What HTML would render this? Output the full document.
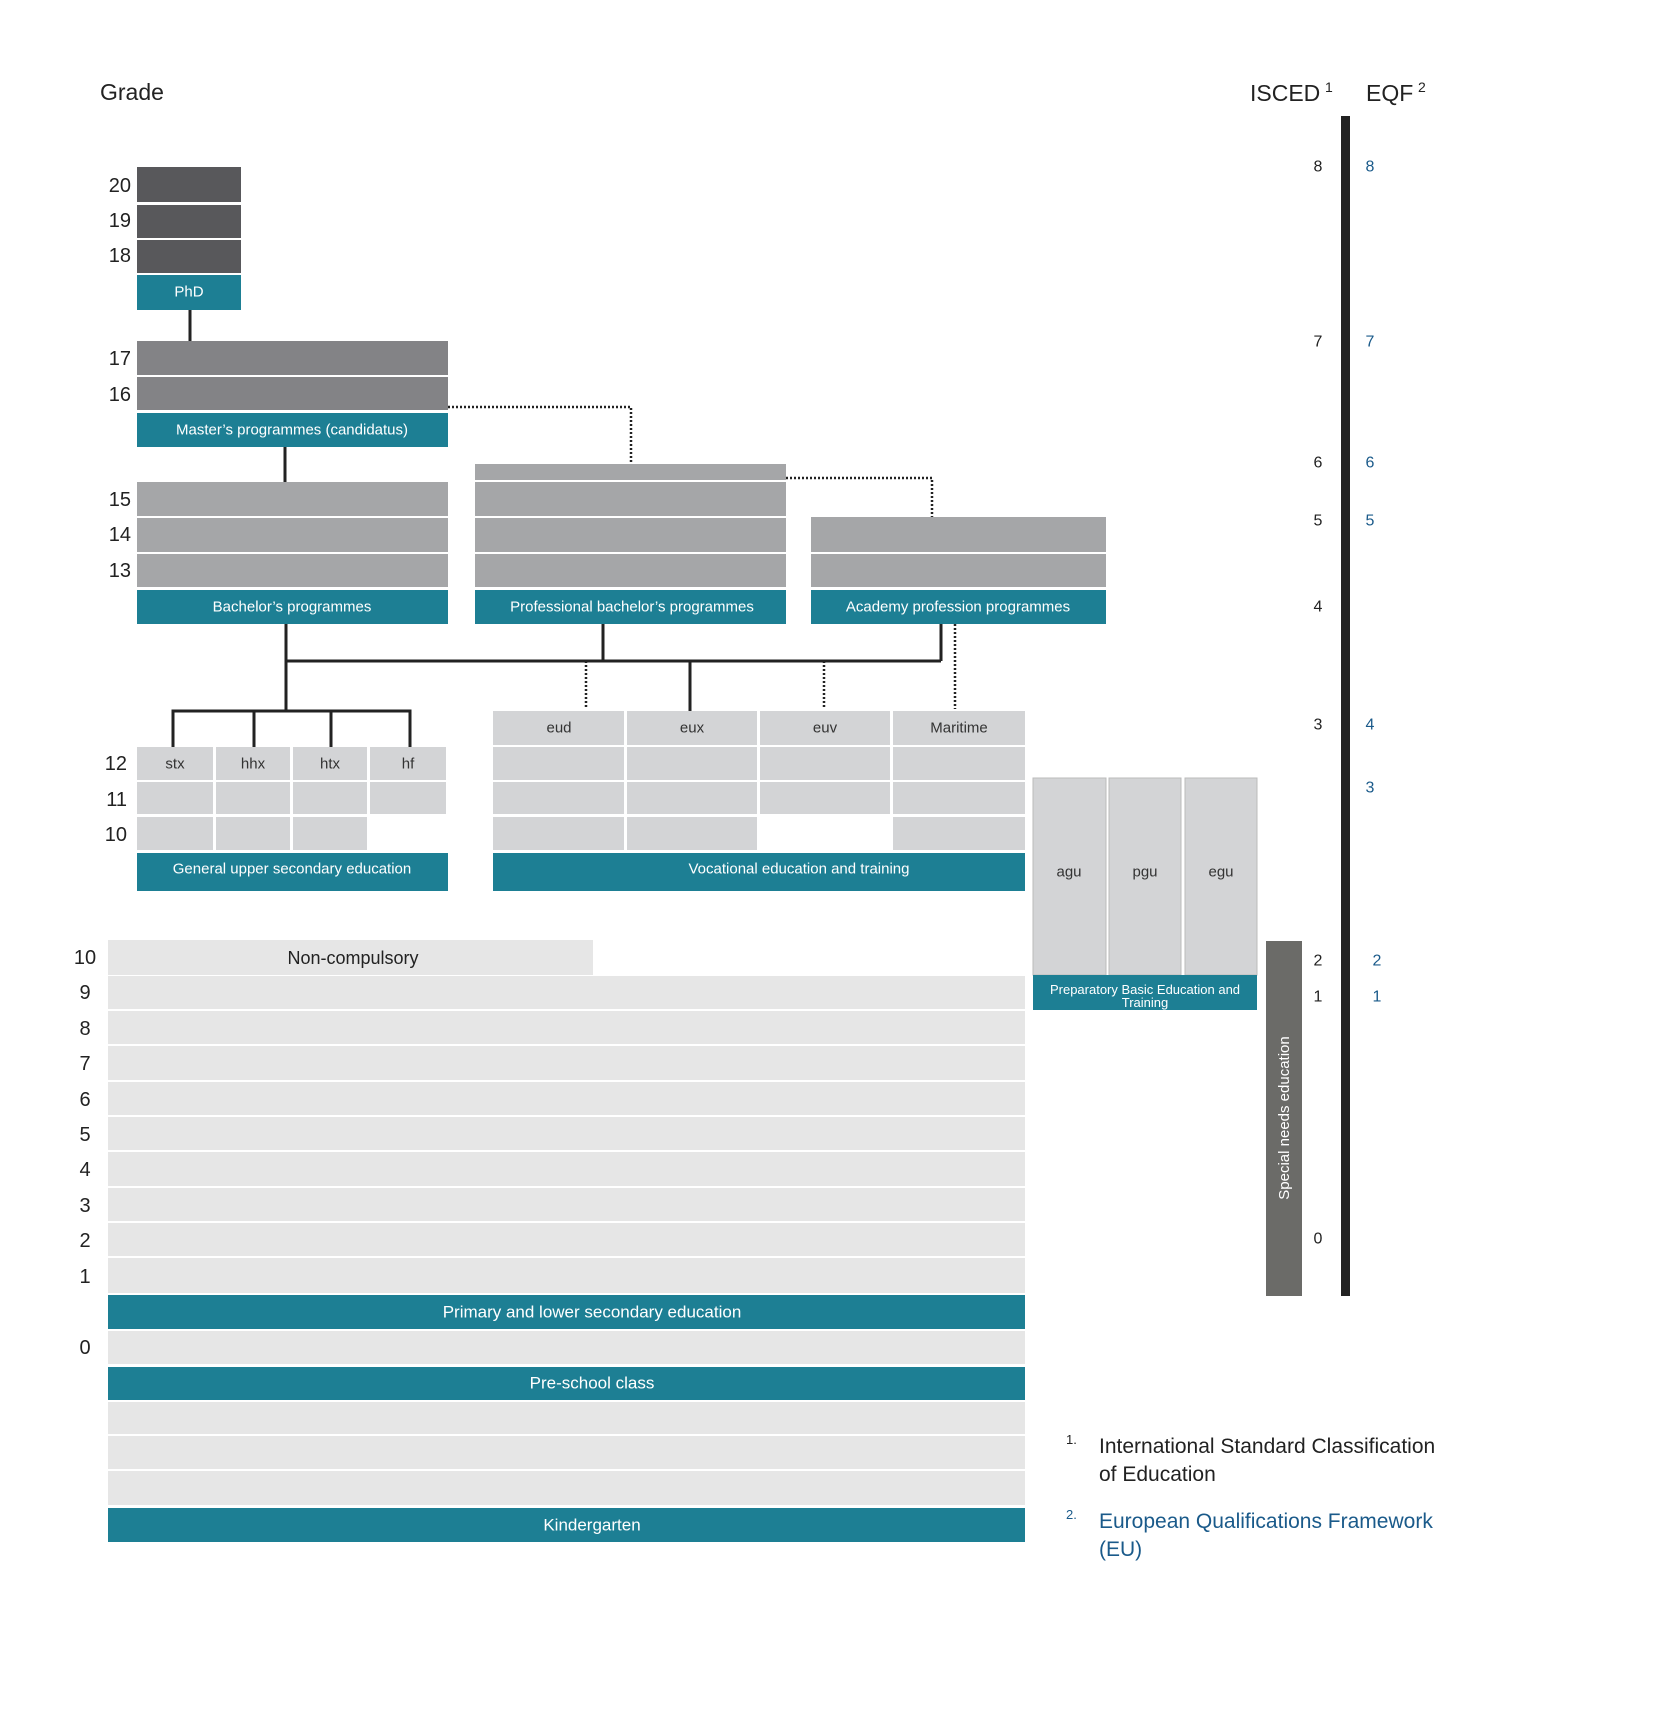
<!DOCTYPE html>
<html><head><meta charset="utf-8"><style>
html,body{margin:0;padding:0;background:#fff}
svg{display:block}
text{font-family:"Liberation Sans",sans-serif}
.g{font-size:20px;fill:#222}
.w{font-size:15px;fill:#fff;text-anchor:middle;dominant-baseline:central}
.s{font-size:15px;fill:#333;text-anchor:middle;dominant-baseline:central}
.n{font-size:16px;fill:#222;text-anchor:middle;dominant-baseline:central}
.b{font-size:16px;fill:#1a5a8a;text-anchor:middle;dominant-baseline:central}
</style></head><body>
<svg width="1654" height="1733" viewBox="0 0 1654 1733" xmlns="http://www.w3.org/2000/svg">
<text x="100" y="100" style="font-size:23px;fill:#222">Grade</text>
<text x="1250" y="101" style="font-size:23px;fill:#222">ISCED</text>
<text x="1325" y="92" style="font-size:14px;fill:#222">1</text>
<text x="1366" y="101" style="font-size:23px;fill:#222">EQF</text>
<text x="1418" y="92" style="font-size:14px;fill:#222">2</text>

<!-- PhD -->
<rect x="137" y="167" width="104" height="35" fill="#58585b"/>
<rect x="137" y="205" width="104" height="33" fill="#58585b"/>
<rect x="137" y="240" width="104" height="33" fill="#58585b"/>
<rect x="137" y="275" width="104" height="35" fill="#1d7f94"/>
<text class="w" x="189" y="292">PhD</text>
<line x1="190" y1="310" x2="190" y2="341" stroke="#222" stroke-width="3"/>
<!-- Master -->
<rect x="137" y="341" width="311" height="34" fill="#838386"/>
<rect x="137" y="377" width="311" height="33" fill="#838386"/>
<rect x="137" y="413" width="311" height="34" fill="#1d7f94"/>
<text class="w" x="292" y="430">Master’s programmes (candidatus)</text>
<line x1="285" y1="447" x2="285" y2="482" stroke="#222" stroke-width="3"/>
<polyline points="448,407 631,407 631,464" fill="none" stroke="#222" stroke-width="2.5" stroke-dasharray="2,2"/>
<!-- Bachelor -->
<rect x="137" y="482" width="311" height="34" fill="#a5a6a8"/>
<rect x="137" y="518" width="311" height="34" fill="#a5a6a8"/>
<rect x="137" y="554" width="311" height="33" fill="#a5a6a8"/>
<rect x="137" y="590" width="311" height="34" fill="#1d7f94"/>
<text class="w" x="292" y="607">Bachelor’s programmes</text>
<!-- Prof bachelor -->
<rect x="475" y="464" width="311" height="16" fill="#a5a6a8"/>
<rect x="475" y="482" width="311" height="34" fill="#a5a6a8"/>
<rect x="475" y="518" width="311" height="34" fill="#a5a6a8"/>
<rect x="475" y="554" width="311" height="33" fill="#a5a6a8"/>
<rect x="475" y="590" width="311" height="34" fill="#1d7f94"/>
<text class="w" x="632" y="607">Professional bachelor’s programmes</text>
<polyline points="786,478 932,478 932,517" fill="none" stroke="#222" stroke-width="2.5" stroke-dasharray="2,2"/>
<!-- Academy -->
<rect x="811" y="517" width="295" height="35" fill="#a5a6a8"/>
<rect x="811" y="554" width="295" height="33" fill="#a5a6a8"/>
<rect x="811" y="590" width="295" height="34" fill="#1d7f94"/>
<text class="w" x="958" y="607">Academy profession programmes</text>

<!-- connectors -->
<g stroke="#222" stroke-width="3" fill="none">
<line x1="286" y1="624" x2="286" y2="711"/>
<line x1="286" y1="661" x2="941" y2="661"/>
<line x1="603" y1="624" x2="603" y2="661"/>
<line x1="941" y1="624" x2="941" y2="661"/>
<line x1="690" y1="661" x2="690" y2="711"/>
<polyline points="173,747 173,711 410,711 410,747"/>
<line x1="254" y1="711" x2="254" y2="747"/>
<line x1="331" y1="711" x2="331" y2="747"/>
</g>
<g stroke="#222" stroke-width="2.5" stroke-dasharray="2,2">
<line x1="586" y1="661" x2="586" y2="709"/>
<line x1="824" y1="661" x2="824" y2="709"/>
<line x1="955" y1="624" x2="955" y2="709"/>
</g>

<!-- upper secondary -->
<g fill="#d3d4d6">
<rect x="137" y="747" width="76" height="33"/><rect x="216" y="747" width="74" height="33"/><rect x="293" y="747" width="74" height="33"/><rect x="370" y="747" width="76" height="33"/>
<rect x="137" y="782" width="76" height="32"/><rect x="216" y="782" width="74" height="32"/><rect x="293" y="782" width="74" height="32"/><rect x="370" y="782" width="76" height="32"/>
<rect x="137" y="817" width="76" height="33"/><rect x="216" y="817" width="74" height="33"/><rect x="293" y="817" width="74" height="33"/>
</g>
<text class="s" x="175" y="764">stx</text><text class="s" x="253" y="764">hhx</text><text class="s" x="330" y="764">htx</text><text class="s" x="408" y="764">hf</text>
<rect x="137" y="853" width="311" height="38" fill="#1d7f94"/>
<text class="w" x="292" y="869">General upper secondary education</text>

<!-- VET -->
<g fill="#d3d4d6">
<rect x="493" y="711" width="131" height="34"/><rect x="627" y="711" width="130" height="34"/><rect x="760" y="711" width="130" height="34"/><rect x="893" y="711" width="132" height="34"/>
<rect x="493" y="747" width="131" height="33"/><rect x="627" y="747" width="130" height="33"/><rect x="760" y="747" width="130" height="33"/><rect x="893" y="747" width="132" height="33"/>
<rect x="493" y="782" width="131" height="32"/><rect x="627" y="782" width="130" height="32"/><rect x="760" y="782" width="130" height="32"/><rect x="893" y="782" width="132" height="32"/>
<rect x="493" y="817" width="131" height="33"/><rect x="627" y="817" width="130" height="33"/><rect x="893" y="817" width="132" height="33"/>
</g>
<text class="s" x="559" y="728">eud</text><text class="s" x="692" y="728">eux</text><text class="s" x="825" y="728">euv</text><text class="s" x="959" y="728">Maritime</text>
<rect x="493" y="853" width="532" height="38" fill="#1d7f94"/>
<text class="w" x="799" y="869">Vocational education and training</text>

<!-- FGU -->
<g fill="#d3d4d6" stroke="#bbb" stroke-width="1">
<rect x="1033" y="778" width="73" height="197"/><rect x="1109" y="778" width="72" height="197"/><rect x="1185" y="778" width="72" height="197"/>
</g>
<text class="s" x="1069" y="872">agu</text><text class="s" x="1145" y="872">pgu</text><text class="s" x="1221" y="872">egu</text>
<rect x="1033" y="975" width="224" height="35" fill="#1d7f94"/>
<text x="1145" y="994" style="font-size:13px;fill:#fff;text-anchor:middle">Preparatory Basic Education and</text>
<text x="1145" y="1007" style="font-size:13px;fill:#fff;text-anchor:middle">Training</text>

<!-- special needs -->
<rect x="1266" y="941" width="36" height="355" fill="#6b6b68"/>
<text transform="translate(1289,1118) rotate(-90)" style="font-size:15px;fill:#fff;text-anchor:middle">Special needs education</text>

<!-- ISCED bar -->
<rect x="1341" y="116" width="9" height="1180" fill="#222"/>
<g class="n">
<text class="n" x="1318" y="167">8</text><text class="n" x="1318" y="342">7</text><text class="n" x="1318" y="463">6</text><text class="n" x="1318" y="521">5</text><text class="n" x="1318" y="607">4</text><text class="n" x="1318" y="725">3</text><text class="n" x="1318" y="961">2</text><text class="n" x="1318" y="997">1</text><text class="n" x="1318" y="1239">0</text>
</g>
<text class="b" x="1370" y="167">8</text><text class="b" x="1370" y="342">7</text><text class="b" x="1370" y="463">6</text><text class="b" x="1370" y="521">5</text><text class="b" x="1370" y="725">4</text><text class="b" x="1370" y="788">3</text><text class="b" x="1377" y="961">2</text><text class="b" x="1377" y="997">1</text>

<!-- lower -->
<rect x="108" y="940" width="485" height="35" fill="#e6e6e6"/>
<text x="353" y="958" style="font-size:18px;fill:#222;text-anchor:middle;dominant-baseline:central">Non-compulsory</text>
<g fill="#e6e6e6">
<rect x="108" y="976" width="917" height="33"/><rect x="108" y="1011" width="917" height="33"/><rect x="108" y="1046" width="917" height="34"/><rect x="108" y="1082" width="917" height="33"/><rect x="108" y="1117" width="917" height="33"/><rect x="108" y="1152" width="917" height="34"/><rect x="108" y="1188" width="917" height="33"/><rect x="108" y="1223" width="917" height="33"/><rect x="108" y="1258" width="917" height="35"/>
<rect x="108" y="1331" width="917" height="33"/>
<rect x="108" y="1402" width="917" height="32"/><rect x="108" y="1436" width="917" height="33"/><rect x="108" y="1471" width="917" height="34"/>
</g>
<rect x="108" y="1295" width="917" height="34" fill="#1d7f94"/>
<text class="w" x="592" y="1312" style="font-size:17px">Primary and lower secondary education</text>
<rect x="108" y="1367" width="917" height="33" fill="#1d7f94"/>
<text class="w" x="592" y="1383" style="font-size:17px">Pre-school class</text>
<rect x="108" y="1508" width="917" height="34" fill="#1d7f94"/>
<text class="w" x="592" y="1525" style="font-size:17px">Kindergarten</text>

<!-- grade numbers -->
<g style="font-size:20px;fill:#222;text-anchor:end;dominant-baseline:central">
<text x="131" y="186">20</text><text x="131" y="221">19</text><text x="131" y="256">18</text>
<text x="131" y="359">17</text><text x="131" y="395">16</text>
<text x="131" y="500">15</text><text x="131" y="535">14</text><text x="131" y="571">13</text>
<text x="127" y="764">12</text><text x="127" y="800">11</text><text x="127" y="835">10</text>
</g>
<g style="font-size:20px;fill:#222;text-anchor:middle;dominant-baseline:central">
<text x="85" y="958">10</text><text x="85" y="993">9</text><text x="85" y="1029">8</text><text x="85" y="1064">7</text><text x="85" y="1100">6</text><text x="85" y="1135">5</text><text x="85" y="1170">4</text><text x="85" y="1206">3</text><text x="85" y="1241">2</text><text x="85" y="1277">1</text><text x="85" y="1348">0</text>
</g>

<!-- footnotes -->
<text x="1066" y="1444" style="font-size:13px;fill:#222">1.</text>
<text x="1099" y="1453" style="font-size:21px;fill:#222">International Standard Classification</text>
<text x="1099" y="1481" style="font-size:21px;fill:#222">of Education</text>
<text x="1066" y="1519" style="font-size:13px;fill:#1a5a8a">2.</text>
<text x="1099" y="1528" style="font-size:21px;fill:#1a5a8a">European Qualifications Framework</text>
<text x="1099" y="1556" style="font-size:21px;fill:#1a5a8a">(EU)</text>
</svg>
</body></html>
